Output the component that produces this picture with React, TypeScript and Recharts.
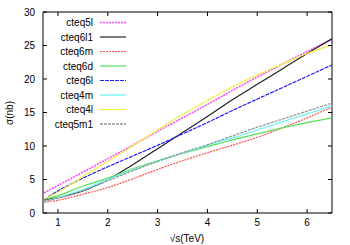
import { LineChart, Line, XAxis, YAxis, ReferenceArea } from "recharts";

const sqrtS = [0.72, 1, 1.5, 2, 2.5, 3, 3.5, 4, 4.5, 5, 5.5, 6, 6.5];

const cteq5l = [3.0, 4.1, 6.1, 8.1, 10.1, 12.2, 14.2, 16.2, 18.3, 20.3, 22.2, 24.1, 25.9];
const cteq6l1 = [2.0, 2.3, 3.3, 5.0, 7.2, 9.6, 12.0, 14.4, 16.9, 19.2, 21.5, 23.8, 26.0];
const cteq6m = [1.6, 1.9, 2.8, 3.8, 5.1, 6.5, 7.8, 9.0, 10.1, 11.3, 12.7, 14.2, 15.8];
const cteq6d = [2.0, 2.6, 4.0, 5.2, 6.6, 7.8, 8.9, 9.9, 10.9, 11.8, 12.7, 13.5, 14.2];
const cteq6l = [2.0, 3.3, 5.2, 6.9, 8.5, 10.1, 11.8, 13.5, 15.3, 17.0, 18.7, 20.4, 22.1];
const cteq4m = [1.7, 2.3, 3.5, 5.0, 6.4, 7.7, 8.9, 10.1, 11.2, 12.4, 13.6, 14.8, 16.0];
const cteq4l = [2.1, 3.1, 5.4, 7.7, 10.0, 12.4, 14.7, 16.8, 18.8, 20.6, 22.2, 23.8, 25.1];
const cteq5m1 = [1.8, 2.2, 3.3, 4.8, 6.3, 7.7, 9.0, 10.2, 11.5, 12.8, 14.0, 15.2, 16.4];

const xTicks = [1, 2, 3, 4, 5, 6];
const yTicks = [0, 5, 10, 15, 20, 25, 30];

const series = [
  { key: "cteq5l", values: cteq5l, color: "#ff44ff", dash: "2 1", width: 1.5 },
  { key: "cteq6l1", values: cteq6l1, color: "#222222", dash: undefined, width: 1.2 },
  { key: "cteq6m", values: cteq6m, color: "#ff5050", dash: "2 1", width: 1.2 },
  { key: "cteq6d", values: cteq6d, color: "#55e055", dash: undefined, width: 1.2 },
  { key: "cteq6l", values: cteq6l, color: "#2020ff", dash: "4 1", width: 1.2 },
  { key: "cteq4m", values: cteq4m, color: "#77f4f4", dash: undefined, width: 1.4 },
  { key: "cteq4l", values: cteq4l, color: "#f0f040", dash: undefined, width: 1.2 },
  { key: "cteq5m1", values: cteq5m1, color: "#999999", dash: "3 1", width: 1.3 },
];

const data = sqrtS.map((x, i) => {
  const row: Record<string, number> = { x };
  series.forEach((s) => (row[s.key] = s.values[i]));
  return row;
});

const PLOT_W = 289;
const PLOT_H = 201;
const FONT = "'Liberation Sans', Arial, sans-serif";

function XTick(props: any) {
  const { x, y, payload } = props;
  const axisY = y - 5;
  return (
    <g>
      <line x1={x} y1={axisY} x2={x} y2={axisY - 4} stroke="#000" />
      <line x1={x} y1={axisY - PLOT_H} x2={x} y2={axisY - PLOT_H + 4} stroke="#000" />
      <text x={x} y={y} dy="0.75em" textAnchor="middle" fontSize={10} fontFamily={FONT} fill="#000">
        {payload.value}
      </text>
    </g>
  );
}

function YTick(props: any) {
  const { x, y, payload } = props;
  const axisX = x + 8;
  return (
    <g>
      <line x1={axisX} y1={y} x2={axisX + 4} y2={y} stroke="#000" />
      <line x1={axisX + PLOT_W} y1={y} x2={axisX + PLOT_W - 4} y2={y} stroke="#000" />
      <text x={x} y={y} dy="0.35em" textAnchor="end" fontSize={10} fontFamily={FONT} fill="#000">
        {payload.value}
      </text>
    </g>
  );
}

// legend and axis titles drawn over the chart
function Overlay() {
  return (
    <svg width={350} height={245} style={{ position: "absolute", left: 0, top: 0, pointerEvents: "none" }}>
      <text x={187} y={242} textAnchor="middle" fontSize={10} fontFamily={FONT} fill="#000">
        √s(TeV)
      </text>
      <text
        x={13}
        y={113}
        textAnchor="middle"
        transform="rotate(-90 13 113)"
        fontSize={10}
        fontFamily={FONT}
        fill="#000"
      >
        σ(nb)
      </text>
      {series.map((s, i) => {
        const y = 22.5 + i * 14.5;
        return (
          <g key={s.key}>
            <text x={93} y={y + 3.5} textAnchor="end" fontSize={10} fontFamily={FONT} fill="#000">
              {s.key}
            </text>
            <line x1={100} y1={y} x2={126} y2={y} stroke={s.color} strokeDasharray={s.dash} strokeWidth={s.width} />
          </g>
        );
      })}
    </svg>
  );
}

export default function App() {
  return (
    <div style={{ position: "absolute", left: 0, top: 0, width: 350, height: 245, background: "#fff" }}>
      <LineChart width={350} height={245} data={data} margin={{ top: 12, right: 18, bottom: 2, left: 0 }}>
        <ReferenceArea x1={0.7} x2={6.5} y1={0} y2={30} fill="none" fillOpacity={0} stroke="#000" strokeWidth={1} ifOverflow="visible" />
        <XAxis
          dataKey="x"
          type="number"
          domain={[0.7, 6.5]}
          ticks={xTicks}
          allowDataOverflow
          height={30}
          tickSize={0}
          tickMargin={5}
          axisLine={false}
          tick={<XTick />}
        />
        <YAxis
          type="number"
          domain={[0, 30]}
          ticks={yTicks}
          width={43}
          tickSize={0}
          tickMargin={8}
          axisLine={false}
          tick={<YTick />}
        />
        {series.map((s) => (
          <Line
            key={s.key}
            dataKey={s.key}
            type="monotone"
            stroke={s.color}
            strokeWidth={s.width}
            strokeDasharray={s.dash}
            dot={false}
            activeDot={false}
            isAnimationActive={false}
          />
        ))}
      </LineChart>
      <Overlay />
    </div>
  );
}
